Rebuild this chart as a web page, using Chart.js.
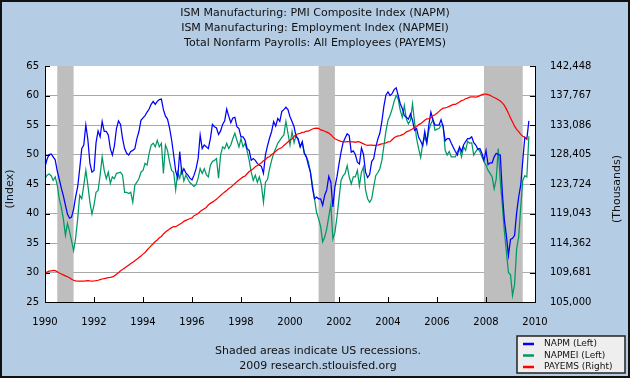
<!DOCTYPE html>
<html><head><meta charset="utf-8">
<script src="https://cdn.jsdelivr.net/npm/chart.js@4.4.1/dist/chart.umd.min.js"></script>
<style>html,body{margin:0;padding:0;background:#b4cce4;}#wrap{width:630px;height:378px;position:relative;}</style>
</head><body><div id="wrap"><canvas id="c" width="630" height="378"></canvas></div>
<script>
// Monthly data, Jan 1990 .. Oct 2009
const startYear = 1990;
const napm = [
47.9,49.2,50.0,50.1,49.6,49.1,47.2,45.8,44.3,43.0,41.4,39.9,
39.2,39.4,40.7,42.8,44.5,47.6,51.0,51.6,55.0,52.5,48.5,47.0,
47.3,52.0,54.0,53.0,55.6,53.9,53.9,53.3,51.0,49.9,51.5,54.4,
55.7,55.1,52.7,51.0,50.2,49.9,50.5,50.7,51.0,52.7,53.9,55.8,
56.2,56.6,57.2,57.7,58.5,59.0,58.5,59.0,59.3,59.4,57.6,56.5,
56.0,54.5,52.5,50.0,47.2,46.0,50.5,46.8,47.6,46.9,46.5,46.0,
45.7,46.5,47.6,49.3,53.3,51.0,51.6,51.3,51.0,52.7,55.1,54.7,
54.5,53.4,54.0,55.1,55.7,57.7,56.5,55.4,56.2,56.3,54.7,54.4,
53.0,53.0,52.4,51.0,50.7,49.0,49.3,49.0,48.5,48.2,48.0,46.8,
50.0,51.5,52.8,53.9,55.6,54.8,56.1,55.6,57.3,57.6,58.0,57.6,
56.4,55.6,54.7,53.0,52.7,51.3,52.2,50.2,49.6,48.2,47.0,44.3,
42.5,42.8,42.5,42.5,41.4,43.1,44.0,46.3,45.3,41.1,44.5,46.2,
48.4,50.4,52.0,52.8,53.5,53.2,50.4,50.6,50.0,48.7,48.4,51.1,
50.0,47.0,46.1,46.6,48.8,49.3,51.2,52.6,53.6,55.6,58.2,60.1,
60.6,60.0,60.3,61.0,61.3,60.0,58.6,57.8,56.6,56.3,56.0,56.9,
55.8,54.1,54.4,52.9,52.3,51.5,53.9,52.0,55.0,57.2,55.9,55.0,
55.0,55.0,55.9,54.7,52.3,52.7,52.7,51.9,51.2,50.5,49.9,51.3,
50.5,51.6,52.2,52.7,52.7,53.0,52.0,51.6,50.9,51.0,50.2,49.0,
50.7,48.3,48.6,48.6,49.6,50.2,50.0,49.9,43.5,38.9,36.2,32.9,
35.6,35.8,36.3,40.1,42.8,44.8,48.9,52.9,52.6,55.7];
const napmei = [
45.9,46.5,46.7,46.4,45.6,46.2,44.8,42.5,41.0,39.1,36.3,38.3,
37.0,35.4,33.7,35.8,39.1,43.1,42.5,44.8,47.3,44.8,41.9,39.9,
41.4,43.6,43.9,46.5,49.6,47.3,45.9,47.0,45.1,46.2,45.9,46.8,
46.9,47.0,46.5,43.6,43.6,43.4,43.6,41.9,44.8,45.3,45.9,47.0,
47.3,48.5,48.2,50.2,51.6,51.9,51.3,52.4,51.3,51.9,46.8,51.6,
50.7,48.8,47.3,47.0,44.0,47.0,46.0,47.6,45.5,46.5,45.8,45.2,
44.9,44.6,44.9,46.0,47.6,46.8,47.6,46.6,46.2,48.2,48.8,49.0,
49.3,46.0,49.9,51.3,51.0,51.9,51.0,51.6,52.7,53.6,52.4,51.3,
52.7,51.3,51.9,50.6,49.0,47.0,45.6,46.5,45.3,46.2,44.8,41.9,
45.3,45.8,47.6,49.0,50.2,51.0,51.9,52.4,52.9,53.3,55.6,53.6,
51.6,53.9,52.0,53.3,52.4,51.3,52.0,50.3,49.6,48.8,47.0,44.8,
42.5,40.2,39.1,37.8,35.2,36.0,37.4,39.5,41.5,35.7,36.8,39.4,
42.5,45.6,46.4,46.8,48.1,46.2,45.0,46.2,46.2,47.3,44.7,47.0,
47.9,44.0,42.5,41.9,42.5,44.5,46.4,46.9,47.6,49.0,51.5,54.0,
55.8,56.6,57.7,59.0,60.0,59.4,57.5,56.3,58.3,56.0,55.2,55.8,
58.6,55.5,52.7,51.0,49.5,51.8,53.0,51.9,54.1,55.2,55.9,54.1,
54.3,54.4,55.0,55.0,50.7,49.9,50.5,49.6,49.6,49.6,50.5,51.0,
49.6,51.3,50.7,52.2,51.9,52.0,49.9,50.5,51.0,50.5,49.6,48.8,
48.2,47.3,46.8,46.2,44.2,45.8,51.0,45.5,41.4,37.0,33.5,30.0,
29.6,26.1,28.0,34.0,36.0,41.0,45.6,46.4,46.2,53.1];
const payems = [
109550,109750,109900,109950,110000,109980,109800,109600,109450,109300,109150,109000,
108850,108600,108450,108350,108300,108320,108300,108330,108370,108380,108350,108330,
108340,108380,108450,108550,108650,108700,108780,108850,108900,109000,109150,109400,
109650,109950,110150,110400,110650,110850,111100,111300,111550,111800,112050,112300,
112600,112850,113250,113600,113950,114250,114600,114850,115200,115400,115800,116100,
116350,116600,116800,116950,116950,117150,117350,117550,117800,117950,118100,118250,
118350,118700,118850,119050,119350,119600,119800,120000,120400,120650,120850,121050,
121300,121600,121900,122200,122450,122700,123000,123200,123500,123800,124100,124350,
124600,124850,125000,125350,125700,125900,126150,126450,126650,126850,127100,127400,
127600,127950,128050,128400,128600,128900,129200,129350,129500,129850,130100,130400,
130700,130850,131300,131550,131700,131750,131900,131950,132100,132100,132300,132450,
132550,132600,132550,132300,132250,132100,131950,131800,131550,131200,130900,130750,
130600,130500,130450,130400,130450,130450,130400,130400,130350,130450,130400,130250,
130100,129950,129850,129900,129900,129850,129850,129900,130000,130100,130150,130250,
130400,130450,130750,131050,131250,131350,131400,131550,131700,132000,132100,132300,
132450,132700,132800,133150,133300,133550,133850,134050,134100,134200,134550,134700,
134950,135250,135550,135750,135800,135900,136050,136200,136350,136350,136550,136750,
136950,137050,137250,137350,137500,137550,137550,137500,137600,137750,137900,138000,
137990,137900,137800,137600,137450,137300,137100,136900,136600,136200,135600,134950,
134200,133550,132900,132400,132050,131600,131300,131150,130950,null];
const recessions = [[1990.5, 1991.167], [2001.167, 2001.833], [2007.917, 2009.5]];
const yearTicks = [1990,1992,1994,1996,1998,2000,2002,2004,2006,2008,2010];
const indexTicks = [25,30,35,40,45,50,55,60,65];
const payemsTicks = [105000,109681,114362,119043,123724,128405,133086,137767,142448];
const titleLines = ['ISM Manufacturing: PMI Composite Index (NAPM)','ISM Manufacturing: Employment Index (NAPMEI)','Total Nonfarm Payrolls: All Employees (PAYEMS)'];
const footerLines = ['Shaded areas indicate US recessions.','2009 research.stlouisfed.org'];
const seriesNames = ['NAPM (Left)','NAPMEI (Left)','PAYEMS (Right)'];
const seriesColors = ['#0000ff','#009966','#ff0000'];

const FONT = "'DejaVu Sans', Verdana, sans-serif";
const BG = '#b4cce4';
const toPts = arr => arr.map((v, i) => ({x: startYear + i / 12, y: v}));

const fredPlugin = {
  id: 'fred',
  beforeDraw(chart) {
    const {ctx, chartArea: a} = chart;
    ctx.save();
    ctx.fillStyle = BG; ctx.fillRect(0, 0, chart.width, chart.height);
    ctx.fillStyle = '#ffffff'; ctx.fillRect(a.left, a.top, a.right - a.left, a.bottom - a.top);
    ctx.restore();
  },
  beforeDatasetsDraw(chart) {
    const {ctx, chartArea: a, scales: {x}} = chart;
    ctx.save();
    ctx.fillStyle = '#bebebe';
    recessions.forEach(([s, e]) => {
      const x0 = x.getPixelForValue(s), x1 = x.getPixelForValue(e);
      ctx.fillRect(x0, a.top, x1 - x0, a.bottom - a.top);
    });
    ctx.restore();
  },
  afterDraw(chart) {
    const {ctx, chartArea: a, scales: {x, y, y2}} = chart;
    ctx.save();
    ctx.strokeStyle = '#000'; ctx.lineWidth = 1;
    ctx.beginPath();
    ctx.moveTo(a.left + 0.5, a.top); ctx.lineTo(a.left + 0.5, a.bottom + 0.5);
    ctx.lineTo(a.right + 0.5, a.bottom + 0.5); ctx.lineTo(a.right + 0.5, a.top);
    indexTicks.forEach(v => { const py = Math.round(y.getPixelForValue(v)) + 0.5; ctx.moveTo(a.left, py); ctx.lineTo(a.left + 5, py); });
    payemsTicks.forEach(v => { const py = Math.round(y2.getPixelForValue(v)) + 0.5; ctx.moveTo(a.right + 1, py); ctx.lineTo(a.right - 5, py); });
    yearTicks.forEach(v => { const px = Math.round(x.getPixelForValue(v)) + 0.5; ctx.moveTo(px, a.bottom); ctx.lineTo(px, a.bottom - 5); });
    ctx.stroke();
    ctx.fillStyle = '#111';
    ctx.font = '11px ' + FONT;
    ctx.textAlign = 'center'; ctx.textBaseline = 'middle';
    ctx.save(); ctx.translate(10, 189); ctx.rotate(-Math.PI / 2); ctx.fillText('(Index)', 0, 0); ctx.restore();
    ctx.save(); ctx.translate(617, 189); ctx.rotate(-Math.PI / 2); ctx.fillText('(Thousands)', 0, 0); ctx.restore();
    ctx.fillText(footerLines[0], 318, 351);
    ctx.fillText(footerLines[1], 318, 366);
    const lx = 517, ly = 336, lw = 108, lh = 37;
    ctx.fillStyle = '#eeeeee'; ctx.fillRect(lx, ly, lw, lh);
    ctx.strokeStyle = '#222'; ctx.lineWidth = 1.5; ctx.strokeRect(lx, ly, lw, lh);
    ctx.font = '9px ' + FONT; ctx.textAlign = 'left';
    seriesNames.forEach((n, i) => {
      const yy = ly + 8 + i * 11.5;
      ctx.strokeStyle = seriesColors[i]; ctx.lineWidth = 2.5;
      ctx.beginPath(); ctx.moveTo(lx + 6, yy); ctx.lineTo(lx + 17, yy); ctx.stroke();
      ctx.fillStyle = '#111'; ctx.fillText(n, lx + 27, yy);
    });
    ctx.strokeStyle = '#111'; ctx.lineWidth = 2; ctx.strokeRect(1, 1, chart.width - 2, chart.height - 2);
    ctx.restore();
  }
};

new Chart(document.getElementById('c'), {
  type: 'line',
  data: {
    datasets: [
      {label: seriesNames[0], data: toPts(napm), borderColor: seriesColors[0], yAxisID: 'y', order: 2},
      {label: seriesNames[1], data: toPts(napmei), borderColor: seriesColors[1], yAxisID: 'y', order: 3},
      {label: seriesNames[2], data: toPts(payems), borderColor: seriesColors[2], yAxisID: 'y2', order: 1}
    ]
  },
  options: {
    responsive: false, animation: false, devicePixelRatio: 1,
    elements: {line: {borderWidth: 1.25, tension: 0}, point: {radius: 0}},
    layout: {padding: 0},
    plugins: {
      legend: {display: false}, tooltip: {enabled: false},
      title: {display: true, text: titleLines, color: '#111',
        font: {family: FONT, size: 11, weight: 'normal', lineHeight: 15 / 11},
        padding: {top: 6, bottom: 15}}
    },
    scales: {
      x: {type: 'linear', min: 1990, max: 2010,
        afterBuildTicks: s => { s.ticks = yearTicks.map(v => ({value: v})); },
        afterFit: s => { s.height = 76; },
        grid: {display: false}, border: {display: false},
        ticks: {callback: v => String(v), color: '#000', font: {family: FONT, size: 10}, padding: 6, maxRotation: 0, autoSkip: false}},
      y: {position: 'left', min: 25, max: 65,
        afterBuildTicks: s => { s.ticks = indexTicks.map(v => ({value: v})); },
        afterFit: s => { s.width = 45; },
        grid: {drawTicks: false, color: c => (c.tick && (c.tick.value === 25 || c.tick.value === 65)) ? 'rgba(0,0,0,0)' : '#aaaaaa'},
        border: {display: false},
        ticks: {color: '#000', font: {family: FONT, size: 10}, padding: 6}},
      y2: {position: 'right', min: 105000, max: 142448,
        afterBuildTicks: s => { s.ticks = payemsTicks.map(v => ({value: v})); },
        afterFit: s => { s.width = 95; },
        grid: {display: false}, border: {display: false},
        ticks: {color: '#000', font: {family: FONT, size: 10}, padding: 7, callback: v => Number(v).toLocaleString('en-US')}}
    }
  },
  plugins: [fredPlugin]
});
</script></body></html>
